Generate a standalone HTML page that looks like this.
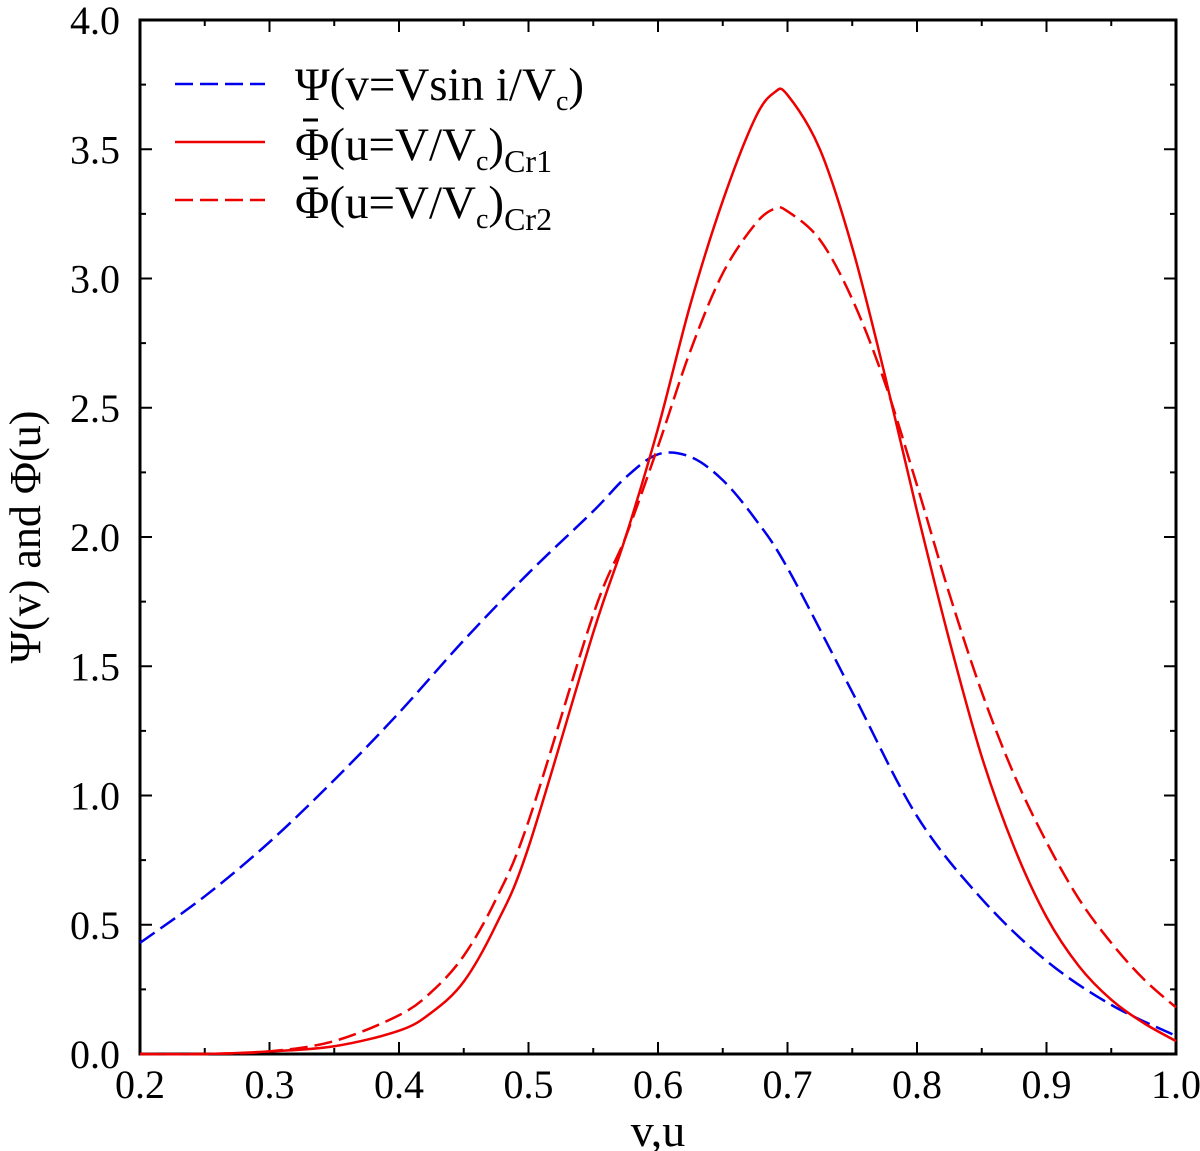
<!DOCTYPE html>
<html><head><meta charset="utf-8"><style>
body{margin:0;background:#fff}
svg{display:block;font-family:"Liberation Serif","DejaVu Serif",serif}
</style></head><body>
<svg id="chart" width="1200" height="1151" viewBox="0 0 1200 1151">
<g id="axes"></g><g id="series"></g>
<g>
<line x1="175" y1="84" x2="265" y2="84" stroke="#0000ee" stroke-width="2.5" stroke-dasharray="18,7"/>
<text x="295" y="100" font-size="47">Ψ(v=Vsin i/V<tspan font-size="28" dy="10">c</tspan><tspan dy="-10">)</tspan></text>
<line x1="175" y1="142" x2="265" y2="142" stroke="#ee0000" stroke-width="2.5"/>
<line x1="303" y1="120" x2="318" y2="120" stroke="#000" stroke-width="3"/>
<text x="295" y="160" font-size="47">Φ(u=V/V<tspan font-size="28" dy="10">c</tspan><tspan dy="-10">)</tspan><tspan font-size="32" dy="12">Cr1</tspan></text>
<line x1="175" y1="200" x2="265" y2="200" stroke="#ee0000" stroke-width="2.5" stroke-dasharray="18,7"/>
<line x1="303" y1="178" x2="318" y2="178" stroke="#000" stroke-width="3"/>
<text x="295" y="218" font-size="47">Φ(u=V/V<tspan font-size="28" dy="10">c</tspan><tspan dy="-10">)</tspan><tspan font-size="32" dy="12">Cr2</tspan></text>
</g>
<text x="658" y="1146" font-size="46" text-anchor="middle">v,u</text>
<text transform="translate(40,537) rotate(-90)" font-size="44" text-anchor="middle">Ψ(v) and Φ(u)</text>
</svg>
<script>
const psiX=[0.2,0.25,0.3,0.35,0.4,0.45,0.5,0.55,0.575,0.6,0.625,0.65,0.675,0.7,0.75,0.8,0.85,0.9,0.95,1.0];
const psiY=[0.43,0.61,0.82,1.06,1.32,1.6,1.86,2.1,2.23,2.32,2.31,2.22,2.07,1.88,1.4,0.92,0.6,0.36,0.19,0.07];
const cr1X=[0.2,0.25,0.3,0.35,0.4,0.425,0.45,0.475,0.5,0.55,0.575,0.6,0.625,0.65,0.675,0.69,0.7,0.725,0.75,0.775,0.8,0.825,0.85,0.875,0.9,0.925,0.95,0.975,1.0];
const cr1Y=[0,0,0.01,0.03,0.09,0.16,0.28,0.5,0.8,1.63,2.0,2.42,2.9,3.3,3.62,3.72,3.71,3.5,3.12,2.63,2.1,1.6,1.15,0.8,0.53,0.34,0.21,0.12,0.05];
const cr2X=[0.2,0.25,0.3,0.35,0.4,0.425,0.45,0.475,0.5,0.55,0.575,0.6,0.625,0.65,0.675,0.69,0.7,0.725,0.75,0.775,0.8,0.825,0.85,0.875,0.9,0.925,0.95,0.975,1.0];
const cr2Y=[0,0,0.01,0.05,0.15,0.24,0.38,0.6,0.9,1.7,2.0,2.35,2.72,3.02,3.21,3.27,3.26,3.15,2.92,2.6,2.2,1.78,1.4,1.08,0.82,0.6,0.43,0.29,0.18];
const xTicks=["0.2","0.3","0.4","0.5","0.6","0.7","0.8","0.9","1.0"];
const yTicks=["0.0","0.5","1.0","1.5","2.0","2.5","3.0","3.5","4.0"];
const L=140,R=1176,T=20,B=1054;
const sx=v=>L+(v-0.2)/0.8*(R-L);
const sy=v=>B-v/4*(B-T);
const NS="http://www.w3.org/2000/svg";
const axes=document.getElementById('axes');
function mk(tag,attrs,parent){const e=document.createElementNS(NS,tag);for(const k in attrs)e.setAttribute(k,attrs[k]);parent.appendChild(e);return e;}
const frame=mk('rect',{x:L,y:T,width:R-L,height:B-T,fill:'none',stroke:'#000','stroke-width':3},axes);


for(let i=0;i<=16;i++){const v=0.2+i*0.05,x=sx(v),len=i%2?6:12;
 const t1=mk('line',{x1:x,y1:B,x2:x,y2:B-len,stroke:'#000','stroke-width':2},axes);
 
 
 const t2=mk('line',{x1:x,y1:T,x2:x,y2:T+len,stroke:'#000','stroke-width':2},axes);
 
 }
xTicks.forEach(s=>{const t=mk('text',{x:sx(parseFloat(s)),y:B+44,'font-size':40,'text-anchor':'middle'},axes);t.textContent=s;
 
 });
for(let i=0;i<=16;i++){const v=i*0.25,y=sy(v),len=i%2?6:12;
 const t1=mk('line',{x1:L,y1:y,x2:L+len,y2:y,stroke:'#000','stroke-width':2},axes);
 
 
 const t2=mk('line',{x1:R,y1:y,x2:R-len,y2:y,stroke:'#000','stroke-width':2},axes);
 
 }
yTicks.forEach(s=>{const t=mk('text',{x:L-20,y:sy(parseFloat(s))+14,'font-size':40,'text-anchor':'end'},axes);t.textContent=s;
 
 });
function path(xs,ys){const p=xs.map((x,i)=>[sx(x),sy(ys[i])]);let d='M'+p[0][0]+','+p[0][1];
 for(let i=0;i<p.length-1;i++){const p0=p[Math.max(0,i-1)],p1=p[i],p2=p[i+1],p3=p[Math.min(p.length-1,i+2)];
 d+=` C${p1[0]+(p2[0]-p0[0])/6},${p1[1]+(p2[1]-p0[1])/6} ${p2[0]-(p3[0]-p1[0])/6},${p2[1]-(p3[1]-p1[1])/6} ${p2[0]},${p2[1]}`;}
 return d;}
const ser=document.getElementById('series');
const s1=mk('path',{d:path(psiX,psiY),fill:'none',stroke:'#0000ee','stroke-width':2.5,'stroke-dasharray':'18,7'},ser);


const s2=mk('path',{d:path(cr1X,cr1Y),fill:'none',stroke:'#ee0000','stroke-width':2.5},ser);


const s3=mk('path',{d:path(cr2X,cr2Y),fill:'none',stroke:'#ee0000','stroke-width':2.5,'stroke-dasharray':'18,7'},ser);


</script>
</body></html>
